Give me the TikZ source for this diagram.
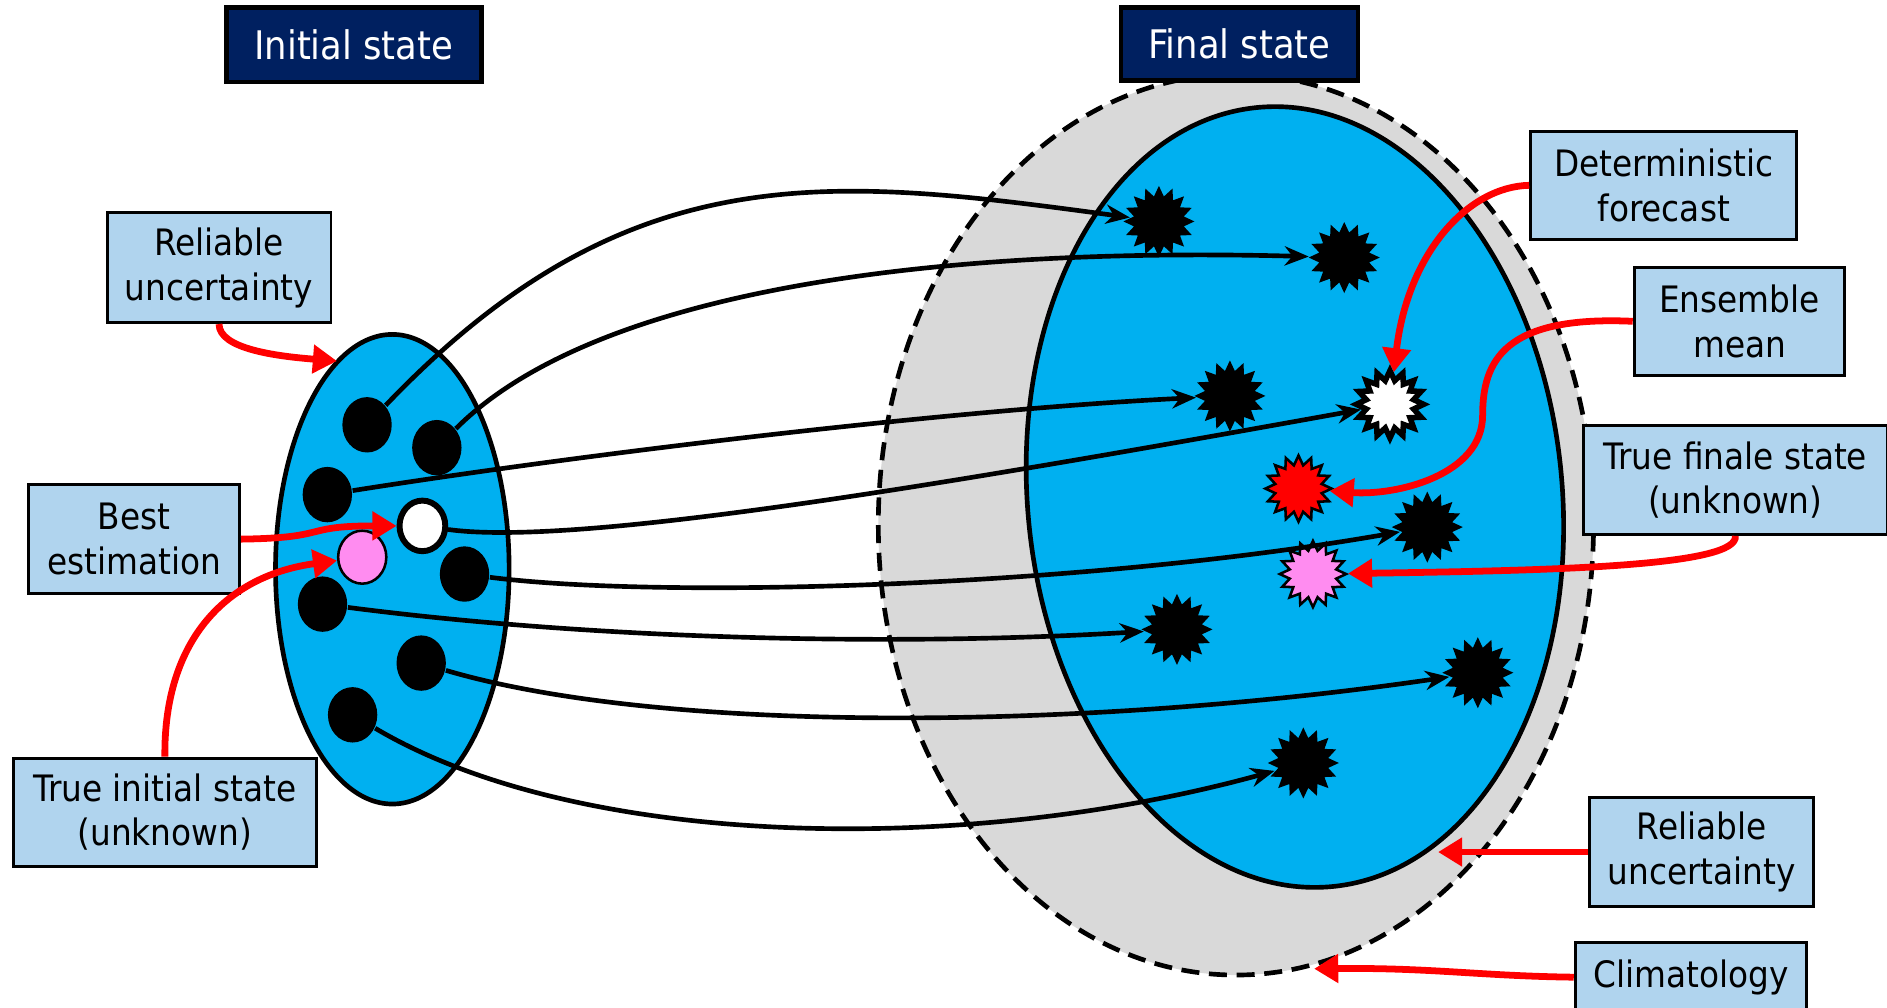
\documentclass[tikz,border=0pt]{standalone}
\usepackage{fontspec}
\setmainfont{DejaVu Sans Condensed}
\usetikzlibrary{shapes.geometric,arrows.meta}
\definecolor{navy}{HTML}{002060}
\definecolor{skyb}{HTML}{00B0F0}
\definecolor{lbox}{RGB}{176,212,238}
\definecolor{climg}{HTML}{D9D9D9}
\definecolor{pinkv}{HTML}{FF8CF0}
\begin{document}
\begin{tikzpicture}[x=0.01cm,y=-0.01cm,
  lbl/.style={draw=black, line width=0.7pt, fill=lbox, align=center, inner sep=0pt,
    font=\fontsize{8.6}{10.5}\selectfont},
  ttl/.style={draw=black, line width=1.1pt, fill=navy, text=white, inner sep=0pt,
    font=\fontsize{9.3}{11}\selectfont},
  dot/.style={ellipse, fill=black, inner sep=0pt, minimum width=0.41cm, minimum height=0.46cm},
  burst/.style={star, star points=16, star point ratio=1.4, inner sep=0pt, minimum size=0.59cm, fill=black},
  conn/.style={line width=1.1pt, -{Stealth[length=0.2cm,width=0.16cm]}},
  rarr/.style={red, line width=1.6pt, -{Triangle[length=0.2cm,width=0.23cm]}}
]
\useasboundingbox (0,0) rectangle (1568,837);

% ensembles
\node[ellipse, draw=black, dash pattern=on 0.15cm off 0.08cm, line width=1.1pt, fill=climg,
  minimum width=5.94cm, minimum height=7.48cm, inner sep=0pt] (gell) at (1027,436) {};
\node[ellipse, draw=black, line width=1.1pt, fill=skyb, rotate=5.5,
  minimum width=4.44cm, minimum height=6.5cm, inner sep=0pt] (bell) at (1076,413) {};
\node[ellipse, draw=black, line width=1.1pt, fill=skyb,
  minimum width=1.94cm, minimum height=3.9cm, inner sep=0pt] (lell) at (326,473) {};

% titles
\node[ttl, minimum width=2.12cm, minimum height=0.62cm] (tinit) at (294,37) {Initial state};
\node[ttl, minimum width=1.97cm, minimum height=0.61cm] (tfin) at (1030,36.5) {Final state};

% initial members
\node[dot] (a1) at (305,353) {};
\node[dot] (a2) at (363,372) {};
\node[dot] (a3) at (272,411) {};
\node[ellipse, draw=black, line width=1.4pt, fill=white, inner sep=0pt,
  minimum width=0.38cm, minimum height=0.42cm] (aw) at (351,437) {};
\node[ellipse, draw=black, line width=0.6pt, fill=pinkv, inner sep=0pt,
  minimum width=0.40cm, minimum height=0.44cm] (ap) at (301,463) {};
\node[dot] (a4) at (386,477) {};
\node[dot] (a5) at (268,502) {};
\node[dot] (a6) at (350,551) {};
\node[dot] (a7) at (293,594) {};

% final members
\node[burst] (s1) at (963,184) {};
\node[burst] (s2) at (1117,214) {};
\node[burst] (s3) at (1022,329) {};
\node[burst, fill=white, draw=black, line width=1.3pt, minimum size=0.56cm] (sw) at (1155,336) {};
\node[burst, fill=red, draw=black, line width=0.6pt, minimum size=0.55cm] (sr) at (1079,406) {};
\node[burst] (s4) at (1186,438) {};
\node[burst, fill=pinkv, draw=black, line width=0.6pt, minimum size=0.55cm] (sp) at (1091,477) {};
\node[burst] (s5) at (978,523) {};
\node[burst] (s6) at (1228,559) {};
\node[burst] (s7) at (1083,634) {};

% trajectories
\draw[conn] (a1) .. controls (522,126) and (690,147) .. (s1);
\draw[conn] (a2) .. controls (495,240) and (780,205) .. (s2);
\draw[conn] (a3) .. controls (500,375) and (800,340) .. (s3);
\draw[conn] (aw) .. controls (480,455) and (800,400) .. (sw);
\draw[conn] (a4) .. controls (550,498) and (900,488) .. (s4);
\draw[conn] (a5) .. controls (500,532) and (750,537) .. (s5);
\draw[conn] (a6) .. controls (550,610) and (900,607) .. (s6);
\draw[conn] (a7) .. controls (480,705) and (800,712) .. (s7);

% labels
\node[lbl, minimum width=1.86cm, minimum height=0.91cm] (ru1) at (182,222.5) {Reliable\\uncertainty};
\node[lbl, minimum width=1.75cm, minimum height=0.90cm] (best) at (111.5,448) {Best\\estimation};
\node[lbl, minimum width=2.52cm, minimum height=0.90cm] (tis) at (137,675) {True initial state\\(unknown)};
\node[lbl, minimum width=2.21cm, minimum height=0.90cm] (det) at (1382.5,154) {Deterministic\\forecast};
\node[lbl, minimum width=1.75cm, minimum height=0.90cm] (ens) at (1445.5,267) {Ensemble\\mean};
\node[lbl, minimum width=2.52cm, minimum height=0.90cm] (tfs) at (1442,399) {True finale state\\(unknown)};
\node[lbl, minimum width=1.86cm, minimum height=0.90cm] (ru2) at (1414,708) {Reliable\\uncertainty};
\node[lbl, minimum width=1.92cm, minimum height=0.58cm] (clim) at (1405,812) {Climatology};

% red pointers
\coordinate (lelltip) at (280,300);
\coordinate (ru2tip) at (1195,708);
\coordinate (climtip) at (1092,805);
\draw[rarr] (ru1.south) .. controls (182,290) and (230,296) .. (lelltip);
\draw[rarr] (best.east) .. controls (275,447) and (250,437) .. (aw);
\draw[rarr] (tis.north) .. controls (136,530) and (190,478) .. (ap);
\draw[rarr] (det.west) .. controls (1220,155) and (1170,210) .. (sw);
\draw[rarr] (ens.west) .. controls (1250,262) and (1232,300) .. (1232,345)
  .. controls (1232,395) and (1160,412) .. (sr);
\draw[rarr] (tfs.south) .. controls (1445,470) and (1300,474) .. (sp);
\draw[rarr] (ru2.west) -- (ru2tip);
\draw[rarr] (clim.west) .. controls (1230,811) and (1190,804) .. (climtip);
\end{tikzpicture}
\end{document}
